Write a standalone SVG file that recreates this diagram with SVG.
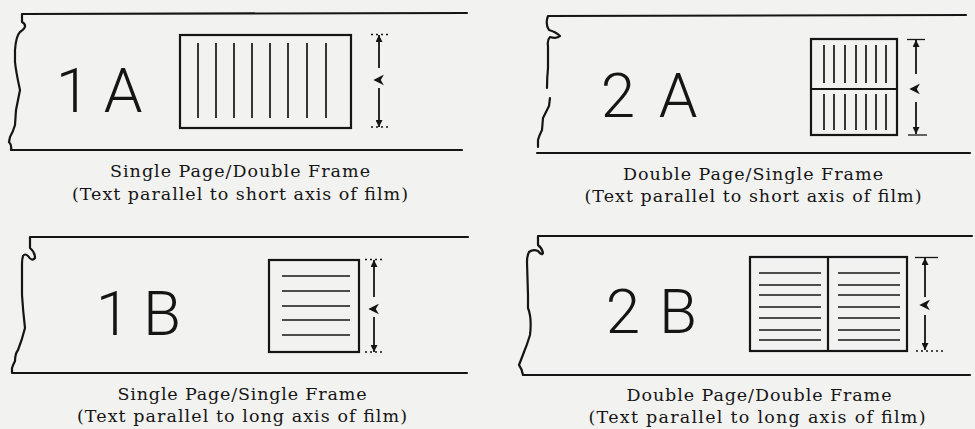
<svg xmlns="http://www.w3.org/2000/svg" width="975" height="429" viewBox="0 0 975 429">
<style>
.film{fill:none;stroke:#151515;stroke-width:2.2;stroke-linejoin:round;stroke-linecap:round}
.frame{fill:none;stroke:#151515;stroke-width:2.2}
.txt{stroke:#151515;stroke-width:1.7}
.dim{stroke:#151515;stroke-width:1.8}
.tick{stroke:#151515;stroke-width:1.3}
.dot{stroke-dasharray:2 3}
.chev{fill:#151515;stroke:#151515;stroke-width:1.5;stroke-linejoin:miter}
.big{font-family:Roboto,"Liberation Sans",sans-serif;font-weight:300;font-size:62px;fill:#151515;text-anchor:middle}
.cap{font-family:"DejaVu Serif","Liberation Serif",serif;font-size:17.5px;fill:#151515;text-anchor:middle}
</style>
<defs>
<marker id="ah" viewBox="0 0 10 10" refX="10" refY="5" markerWidth="8" markerHeight="7" orient="auto-start-reverse" markerUnits="userSpaceOnUse">
<path d="M0,0 L10,5 L0,10 z" fill="#151515"/>
</marker>
</defs>
<rect width="975" height="429" fill="#f2f2f0"/>

<g id="panel-1A">
<path class="film" d="M467,13 L22,14 L22,22 Q29,26 20,32 Q16,36 15,50 L15,62 Q16,72 20,90 Q18,100 16,110 L15,125 Q13,132 10,137 L9,142 Q12,145 11,150 L462,150"/>
<rect class="frame" x="180" y="35" width="171" height="93"/>
<g class="txt">
<line x1="198" y1="43" x2="198" y2="118"/><line x1="216" y1="43" x2="216" y2="118"/>
<line x1="234" y1="43" x2="234" y2="118"/><line x1="252" y1="43" x2="252" y2="118"/>
<line x1="270" y1="43" x2="270" y2="118"/><line x1="288" y1="43" x2="288" y2="118"/>
<line x1="307" y1="43" x2="307" y2="118"/><line x1="326" y1="43" x2="326" y2="118"/>
</g>
<text class="big" x="73 123" y="112">1A</text>
<line class="tick dot" x1="371" y1="34.5" x2="390" y2="34.5"/>
<line class="tick dot" x1="371" y1="127" x2="390" y2="127"/>
<line class="dim" x1="379" y1="68" x2="379" y2="35" marker-end="url(#ah)"/>
<line class="dim" x1="379" y1="88" x2="379" y2="127" marker-end="url(#ah)"/>
<polygon class="chev" points="382,76.5 375,80 382,83.5 380,80"/>
<text class="cap" x="240" y="177" textLength="260">Single Page/Double Frame</text>
<text class="cap" x="240" y="200" textLength="336">(Text parallel to short axis of film)</text>
</g>

<g id="panel-2A">
<path class="film" d="M966,15 L548,16 Q545,24 549,30 Q556,32 560,36 Q557,39 550,37 Q547,40 548,46 L548,68 Q547,78 547,88"/>
<path class="film" d="M550,98 L549,106 Q545,114 543,118 L542,130 Q539,136 538,140 L538,147"/>
<line class="film" x1="537" y1="153" x2="970" y2="153"/>
<rect class="frame" x="811" y="39" width="86" height="96"/>
<line class="frame" x1="811" y1="89" x2="897" y2="89"/>
<g class="txt">
<line x1="824" y1="45" x2="824" y2="83"/><line x1="834" y1="45" x2="834" y2="83"/>
<line x1="845" y1="45" x2="845" y2="83"/><line x1="856" y1="45" x2="856" y2="83"/>
<line x1="866" y1="45" x2="866" y2="83"/><line x1="876" y1="45" x2="876" y2="83"/>
<line x1="886" y1="45" x2="886" y2="83"/>
<line x1="824" y1="94" x2="824" y2="130"/><line x1="834" y1="94" x2="834" y2="130"/>
<line x1="845" y1="94" x2="845" y2="130"/><line x1="856" y1="94" x2="856" y2="130"/>
<line x1="866" y1="94" x2="866" y2="130"/><line x1="876" y1="94" x2="876" y2="130"/>
<line x1="886" y1="94" x2="886" y2="130"/>
</g>
<text class="big" x="618 678" y="117">2A</text>
<line class="tick" x1="907" y1="39.5" x2="925" y2="39.5"/>
<line class="tick" x1="908" y1="135" x2="927" y2="135"/>
<line class="dim" x1="916" y1="74" x2="916" y2="40" marker-end="url(#ah)"/>
<line class="dim" x1="916" y1="102" x2="916" y2="134" marker-end="url(#ah)"/>
<polygon class="chev" points="918,85.5 911,89 918,92.5 916,89"/>
<text class="cap" x="753" y="180" textLength="260">Double Page/Single Frame</text>
<text class="cap" x="753" y="202" textLength="337">(Text parallel to short axis of film)</text>
</g>

<g id="panel-1B">
<path class="film" d="M468,237 L30,237 L30,248 Q35,252 35,258 Q32,262 28,256 Q25,253 23,256 Q22,259 22,264 L22,295 Q23,311 25,328 Q22,340 18,350 Q15,354 15,361 Q13,365 12,368 L12,373 L467,373"/>
<rect class="frame" x="269" y="260" width="90" height="92"/>
<g class="txt">
<line x1="282" y1="276" x2="350" y2="276"/><line x1="282" y1="291" x2="350" y2="291"/>
<line x1="282" y1="306" x2="350" y2="306"/><line x1="282" y1="320" x2="350" y2="320"/>
<line x1="282" y1="335" x2="350" y2="335"/>
</g>
<text class="big" x="113 162" y="335">1B</text>
<line class="tick dot" x1="365" y1="259.5" x2="383" y2="259.5"/>
<line class="tick dot" x1="365" y1="352" x2="384" y2="352"/>
<line class="dim" x1="374" y1="297" x2="374" y2="260" marker-end="url(#ah)"/>
<line class="dim" x1="374" y1="317" x2="374" y2="352" marker-end="url(#ah)"/>
<polygon class="chev" points="377,305.5 370,309 377,312.5 375,309"/>
<text class="cap" x="242" y="400" textLength="249">Single Page/Single Frame</text>
<text class="cap" x="242" y="422" textLength="330">(Text parallel to long axis of film)</text>
</g>

<g id="panel-2B">
<path class="film" d="M972,236 L538,236 L538,245 Q542,248 543,253 Q542,256 538,251 Q533,249 529,252 Q527,256 527,262 L528,295 L528,308 Q532,318 530,335 Q527,345 524,352 Q521,360 519,365 Q522,369 523,375 L970,375"/>
<rect class="frame" x="750" y="257" width="157" height="94"/>
<line class="frame" x1="828" y1="257" x2="828" y2="351"/>
<g class="txt">
<line x1="759" y1="273" x2="821" y2="273"/><line x1="838" y1="273" x2="900" y2="273"/>
<line x1="759" y1="285" x2="821" y2="285"/><line x1="838" y1="285" x2="900" y2="285"/>
<line x1="759" y1="295" x2="821" y2="295"/><line x1="838" y1="295" x2="900" y2="295"/>
<line x1="759" y1="307" x2="821" y2="307"/><line x1="838" y1="307" x2="900" y2="307"/>
<line x1="759" y1="318" x2="821" y2="318"/><line x1="838" y1="318" x2="900" y2="318"/>
<line x1="759" y1="330" x2="821" y2="330"/><line x1="838" y1="330" x2="900" y2="330"/>
<line x1="759" y1="340" x2="821" y2="340"/><line x1="838" y1="340" x2="900" y2="340"/>
</g>
<text class="big" x="623 678" y="333">2B</text>
<line class="tick" x1="915" y1="257.5" x2="938" y2="257.5"/>
<line class="tick dot" x1="916" y1="351" x2="943" y2="351"/>
<line class="dim" x1="925" y1="297" x2="925" y2="258" marker-end="url(#ah)"/>
<line class="dim" x1="925" y1="315" x2="925" y2="350" marker-end="url(#ah)"/>
<polygon class="chev" points="928,301.5 921,305 928,308.5 926,305"/>
<text class="cap" x="759" y="401" textLength="265">Double Page/Double Frame</text>
<text class="cap" x="757" y="423" textLength="337">(Text parallel to long axis of film)</text>
</g>
</svg>
